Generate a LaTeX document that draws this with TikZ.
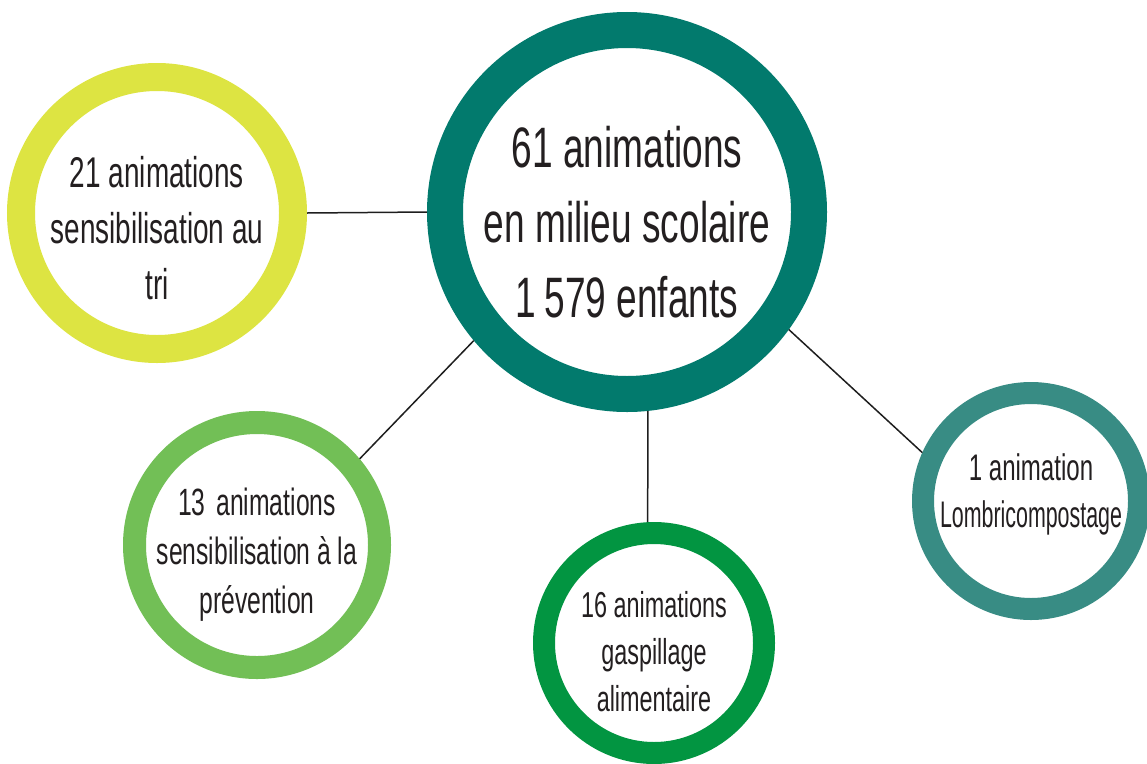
\documentclass[tikz,border=0pt]{standalone}
\usepackage{fontspec}
\setmainfont{Liberation Sans}[FakeStretch=0.65]
\definecolor{cmain}{RGB}{2,122,109}
\definecolor{cyel}{RGB}{221,228,66}
\definecolor{clgreen}{RGB}{114,191,86}
\definecolor{cgreen}{RGB}{2,149,65}
\definecolor{cteal}{RGB}{56,140,132}
\definecolor{txtc}{RGB}{35,31,32}
\definecolor{linec}{RGB}{30,30,30}
\begin{document}
\begin{tikzpicture}[x=1pt,y=-1pt,
  ring/.style={circle,draw,inner sep=0pt,fill=white},
  lbl/.style={align=center,text=txtc,inner sep=0pt},
  conn/.style={draw=linec,line width=1.5pt}]
\useasboundingbox (0,0) rectangle (1147,763);
% rings
\node[ring,draw=cmain,line width=36pt,minimum size=364pt] (main) at (627,212) {};
\node[ring,draw=cyel,line width=28pt,minimum size=272pt] (tri) at (157,213) {};
\node[ring,draw=clgreen,line width=23pt,minimum size=245pt] (prev) at (257,545) {};
\node[ring,draw=cgreen,line width=22pt,minimum size=220pt] (gasp) at (654,643) {};
\node[ring,draw=cteal,line width=22pt,minimum size=216pt] (lomb) at (1031,501) {};
% texts
\node[lbl,font=\fontsize{57}{75}\selectfont] (tmain) at ([yshift=-10.5pt]main.center)
  {61 animations\\en milieu scolaire\\1\hspace{8pt}579 enfants};
\node[lbl,font=\fontsize{43}{56}\selectfont] (ttri) at ([yshift=-15.5pt]tri.center)
  {21 animations\\sensibilisation au\\tri};
\node[lbl,font=\fontsize{38}{49}\selectfont] (tprev) at ([yshift=-9.5pt]prev.center)
  {13\hspace{4pt} animations\\sensibilisation à la\\prévention};
\node[lbl,font=\fontsize{36}{47}\selectfont] (tgasp) at ([yshift=-9pt]gasp.center)
  {16 animations\\gaspillage\\alimentaire};
\node[lbl,font=\fontsize{37}{47}\selectfont] (tlomb) at ([yshift=7pt]lomb.center)
  {1 animation\\\scalebox{0.89}[1]{Lombricompostage}};
% connectors
\draw[conn] (tri.0) -- (main.180);
\draw[conn] (main.220) -- (prev.40);
\draw[conn] (main.-84.6) -- (gasp.93);
\draw[conn] (main.-36.9) -- (lomb.156);
\end{tikzpicture}
\end{document}
